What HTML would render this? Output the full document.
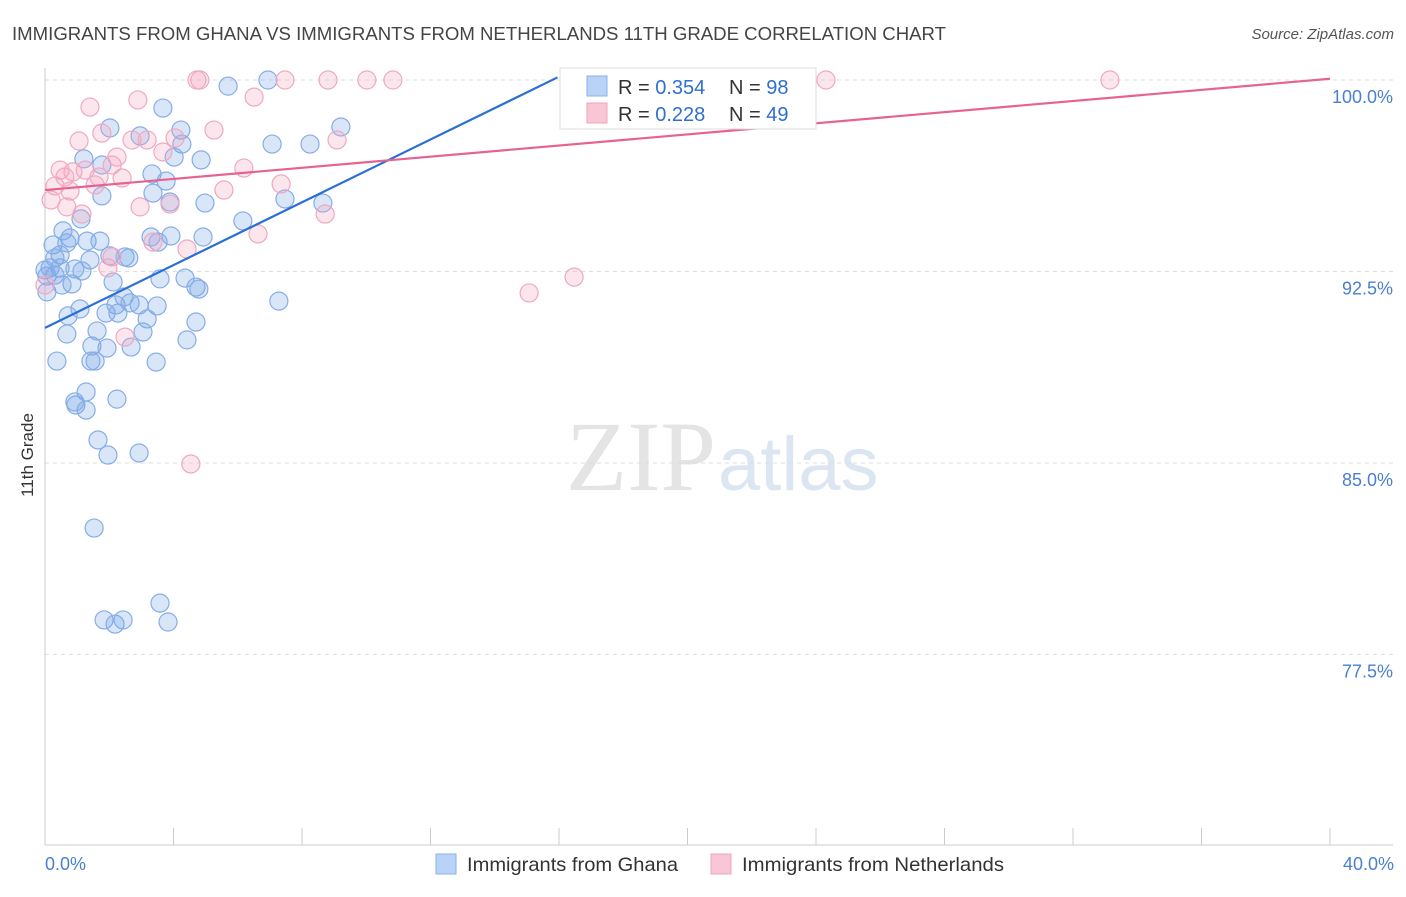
<!DOCTYPE html>
<html><head><meta charset="utf-8"><style>
body{margin:0;background:#fff;font-family:"Liberation Sans",sans-serif}
svg text{font-family:"Liberation Sans",sans-serif}
</style></head><body>
<svg id="chart" width="1406" height="892">
<text x="12" y="40" font-size="18" fill="#444" textLength="934" lengthAdjust="spacingAndGlyphs">IMMIGRANTS FROM GHANA VS IMMIGRANTS FROM NETHERLANDS 11TH GRADE CORRELATION CHART</text>
<text x="1394" y="39" font-size="15" fill="#555" font-style="italic" text-anchor="end">Source: ZipAtlas.com</text>
<text x="716" y="490" font-size="100" fill="#e4e4e4" text-anchor="end" style="font-family:'Liberation Serif',serif">ZIP</text>
<text x="718" y="490" font-size="76" fill="#dce6f3">atlas</text>
<g id="grid"></g><g id="axes"></g><g id="pts"></g><g id="trend"></g>
<text x="33" y="455" font-size="17" fill="#333" text-anchor="middle" transform="rotate(-90 33 455)">11th Grade</text>
<text x="45" y="870" font-size="18" fill="#4a7fd0">0.0%</text>
<text x="1394" y="870" font-size="18" fill="#4a7fd0" text-anchor="end">40.0%</text>
<g>
<rect x="560" y="68" width="256" height="61" fill="#fff" stroke="#ddd"/>
<rect x="587" y="76" width="20" height="20" fill="#b9d2f5" stroke="#8ab2ea"/>
<rect x="587" y="103" width="20" height="20" fill="#f9c6d5" stroke="#f0a4bc"/>
<text x="618" y="94" font-size="20" fill="#333">R = <tspan fill="#2f6fd0">0.354</tspan><tspan x="729">N = </tspan><tspan fill="#2f6fd0">98</tspan></text>
<text x="618" y="121" font-size="20" fill="#333">R = <tspan fill="#2f6fd0">0.228</tspan><tspan x="729">N = </tspan><tspan fill="#2f6fd0">49</tspan></text>
</g>
<g>
<rect x="436" y="854" width="20" height="20" fill="#b9d2f5" stroke="#8ab2ea"/>
<text x="467" y="871" font-size="19.5" fill="#333" textLength="211" lengthAdjust="spacingAndGlyphs">Immigrants from Ghana</text>
<rect x="711" y="854" width="20" height="20" fill="#f9c6d5" stroke="#f0a4bc"/>
<text x="742" y="871" font-size="19.5" fill="#333" textLength="262" lengthAdjust="spacingAndGlyphs">Immigrants from Netherlands</text>
</g>
</svg>
<script>
const yTicks=[100,92.5,85,77.5];
const yTickLabels=["100.0%","92.5%","85.0%","77.5%"];
const xTicks=[0,4,8,12,16,20,24,28,32,36,40];
const ghanaX=[6.94,5.70,3.67,2.02,4.23,2.96,4.26,7.07,8.25,9.21,4.02,4.86,1.21,1.77,3.33,3.77,3.36,1.77,3.89,4.98,7.47,8.65,1.12,6.16,0.56,0.78,0.25,0.68,1.31,1.71,3.30,3.52,3.92,4.92,0.31,0.47,1.40,2.02,2.49,2.61,0.16,0.47,0.93,1.15,0.06,0.31,0.84,2.12,3.58,4.36,4.70,4.79,7.28,2.46,2.21,2.65,2.93,3.49,1.09,0.72,1.90,2.27,3.18,4.70,1.62,0.68,3.05,1.46,1.93,2.68,4.42,0.37,1.43,1.56,3.46,1.28,2.24,0.96,1.28,1.65,1.96,2.93,1.53,1.84,2.18,2.43,3.58,3.83,0.06,0.0,0.53,0.93,19.5];
const ghanaY=[100,99.76,98.90,98.12,98.04,97.81,97.49,97.49,97.49,98.16,96.98,96.87,96.91,96.67,96.32,96.04,95.57,95.46,95.22,95.18,95.34,95.18,94.56,94.48,94.09,93.81,93.54,93.62,93.69,93.69,93.85,93.65,93.89,93.85,93.03,93.15,92.95,93.11,93.07,93.03,92.64,92.64,92.60,92.52,92.32,92.36,92.01,92.09,92.21,92.24,91.89,91.81,91.34,91.50,91.19,91.27,91.19,91.15,91.03,90.76,90.87,90.87,90.64,90.52,90.17,90.05,90.13,89.58,89.50,89.54,89.82,88.99,88.99,88.99,88.95,87.78,87.50,87.27,87.07,85.90,85.31,85.39,82.45,78.85,78.69,78.85,79.51,78.77,91.70,92.56,91.97,87.39,100];
const nethX=[4.73,4.82,7.47,8.81,10.02,10.83,24.31,33.15,2.89,1.40,6.51,1.06,1.77,5.26,4.05,2.71,3.18,2.24,2.09,3.67,0.47,0.87,1.25,0.62,1.68,2.40,6.19,0.31,0.78,1.56,7.35,5.57,0.19,2.96,0.68,1.15,3.89,8.72,6.63,3.36,4.42,1.96,2.09,16.47,15.07,2.49,4.54,9.09,0.0];
const nethY=[100,100,100,100,100,100,100,100,99.22,98.94,99.33,97.61,97.92,98.04,97.73,97.65,97.65,96.98,96.67,97.18,96.47,96.40,96.47,96.20,96.20,96.16,96.55,95.85,95.65,95.89,95.93,95.69,95.30,95.03,95.03,94.75,95.14,94.75,93.97,93.65,93.38,92.64,93.07,92.28,91.66,89.93,84.96,97.65,91.97];
const ghanaTrend=[90.29,0.615];
const nethTrend=[95.69,0.109];
const NS="http://www.w3.org/2000/svg";
const X0=45,X1=1330,Y100=80,PX=25.53;
const sx=v=>X0+(v/40)*(X1-X0);
const sy=v=>Y100+(100-v)*PX;
function mk(tag,attrs,parent){const e=document.createElementNS(NS,tag);for(const k in attrs)e.setAttribute(k,attrs[k]);document.getElementById(parent).appendChild(e);return e;}
yTicks.forEach((t,i)=>{
  const l=mk('line',{x1:45,x2:1393,y1:sy(t),y2:sy(t),stroke:'#ddd','stroke-dasharray':'4,4'},'grid');
  
  
  const tx=mk('text',{x:1393,y:sy(t)+23,'font-size':18,fill:'#4a7fd0','text-anchor':'end'},'grid');
  tx.textContent=yTickLabels[i];
  
  
});
const ax=mk('line',{x1:45,x2:45,y1:68,y2:845,stroke:'#ccc'},'axes');


const bx=mk('line',{x1:45,x2:1393,y1:845,y2:845,stroke:'#ccc'},'axes');


xTicks.forEach(t=>{
  const l=mk('line',{x1:sx(t),x2:sx(t),y1:828,y2:845,stroke:'#ccc'},'axes');
  
  
});
ghanaX.forEach((v,i)=>{
  const c=mk('circle',{cx:sx(v),cy:sy(ghanaY[i]),r:9,fill:'rgba(120,165,230,0.28)',stroke:'#86ade6','stroke-width':1.2},'pts');
  
  
});
nethX.forEach((v,i)=>{
  const c=mk('circle',{cx:sx(v),cy:sy(nethY[i]),r:9,fill:'rgba(245,165,195,0.28)',stroke:'#efa8c0','stroke-width':1.2},'pts');
  
  
});
const gEnd=(100.1-ghanaTrend[0])/ghanaTrend[1];
const gl=mk('line',{x1:sx(0),y1:sy(ghanaTrend[0]),x2:sx(gEnd),y2:sy(ghanaTrend[0]+ghanaTrend[1]*gEnd),stroke:'#2a6fd6','stroke-width':2.2},'trend');


const nl=mk('line',{x1:sx(0),y1:sy(nethTrend[0]),x2:sx(40),y2:sy(nethTrend[0]+nethTrend[1]*40),stroke:'#e5638e','stroke-width':2.2},'trend');


</script>
</body></html>
